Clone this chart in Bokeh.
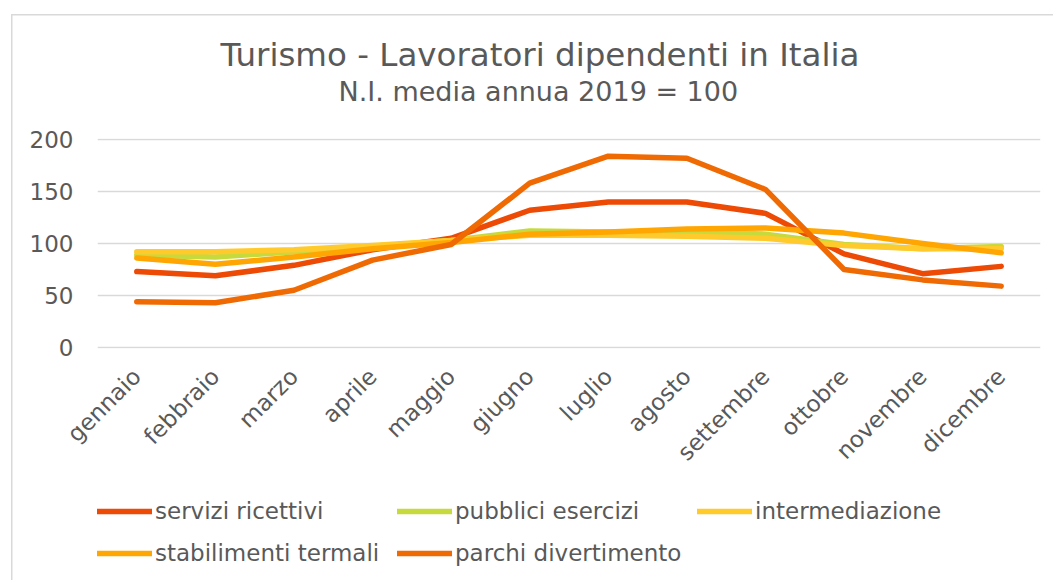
import math
from bokeh.plotting import figure
from bokeh.layouts import column
from bokeh.models import Range1d, FactorRange, Legend, LegendItem, Title, FixedTicker
from bokeh.embed import file_html
from bokeh.resources import INLINE

months = ["gennaio", "febbraio", "marzo", "aprile", "maggio", "giugno",
          "luglio", "agosto", "settembre", "ottobre", "novembre", "dicembre"]

servizi_ricettivi = [73, 69, 79, 94, 105, 132, 140, 140, 129, 90, 71, 78]
pubblici_esercizi = [89, 87, 92, 97, 103, 112, 111, 111, 109, 99, 95, 97]
intermediazione = [92, 92, 94, 98, 103, 108, 108, 107, 105, 98, 95, 95]
stabilimenti_termali = [86, 80, 87, 95, 101, 109, 111, 114, 115, 110, 100, 91]
parchi_divertimento = [44, 43, 55, 84, 99, 158, 184, 182, 152, 75, 65, 59]

series_names = ["servizi ricettivi", "pubblici esercizi", "intermediazione",
                "stabilimenti termali", "parchi divertimento"]
series_values = [servizi_ricettivi, pubblici_esercizi, intermediazione,
                 stabilimenti_termali, parchi_divertimento]
series_colors = ["#EC4A05", "#C6DA3E", "#FFCA2C", "#FFA602", "#F06A04"]

y_ticks = [0, 50, 100, 150, 200]

title_text = "Turismo - Lavoratori dipendenti in Italia"
subtitle_text = "N.I. media annua 2019 = 100"

FONT = "DejaVu Sans"
TXT = "#595959"
LW = 5.5

p = figure(width=1053, height=495,
           x_range=FactorRange(*months, range_padding=0),
           y_range=Range1d(-1, 201),
           output_backend="svg", toolbar_location=None,
           min_border_left=97, min_border_right=13,
           min_border_top=138, min_border_bottom=147)

p.outline_line_color = None
p.background_fill_color = "white"
p.border_fill_alpha = 0
p.xgrid.visible = False
p.ygrid.grid_line_color = "#d9d9d9"
p.ygrid.grid_line_width = 1.5

p.yaxis.ticker = FixedTicker(ticks=y_ticks)
for ax in (p.xaxis, p.yaxis):
    ax.axis_line_color = None
    ax.major_tick_line_color = None
    ax.minor_tick_line_color = None
    ax.major_tick_out = 0
    ax.major_label_text_font = FONT
    ax.major_label_text_color = TXT
    ax.major_label_text_font_size = "23px"
p.yaxis.major_label_standoff = 24
p.xaxis.major_label_orientation = math.pi / 4
p.xaxis.major_label_standoff = 24

for name, vals, col in zip(series_names, series_values, series_colors):
    p.line(x=months, y=vals, line_color=col, line_width=LW,
           line_cap="round", line_join="round")

# spacer between subtitle and plot area, then subtitle and title
p.add_layout(Title(text=" ", text_font_size="10px", standoff=19), "above")
p.add_layout(Title(text=subtitle_text, align="left", offset=241,
                   text_font=FONT, text_color=TXT, text_font_size="27px",
                   text_font_style="normal", standoff=0), "above")
p.add_layout(Title(text=title_text, align="left", offset=123,
                   text_font=FONT, text_color=TXT, text_font_size="32.5px",
                   text_font_style="normal", standoff=0), "above")

# legend panel below the chart (its lines lie outside its visible y range)
pl = figure(width=1053, height=85, x_range=p.x_range, y_range=Range1d(1000, 1001),
            x_axis_type=None, y_axis_type=None,
            output_backend="svg", toolbar_location=None,
            min_border_left=0, min_border_right=0,
            min_border_top=0, min_border_bottom=0)
pl.outline_line_color = None
pl.grid.visible = False
pl.background_fill_alpha = 0
pl.border_fill_alpha = 0

legend_renderers = []
for vals, col in zip(series_values, series_colors):
    legend_renderers.append(pl.line(x=months, y=vals, line_color=col, line_width=LW,
                                    line_cap="round"))

legend = Legend(items=[LegendItem(label=n, renderers=[r]) for n, r in zip(series_names, legend_renderers)],
                orientation="horizontal", ncols=3, location=(0, 12),
                glyph_width=55, glyph_height=30, label_height=30,
                label_width=230, label_standoff=3, spacing=12,
                padding=0, margin=0, border_line_color=None,
                background_fill_alpha=0,
                label_text_font=FONT, label_text_color=TXT,
                label_text_font_size="23px")
pl.add_layout(legend, "center")

layout = column(p, pl, spacing=0)
layout.styles = {
    "background-color": "white",
    "background-image": "linear-gradient(#d9d9d9, #d9d9d9), linear-gradient(#d9d9d9, #d9d9d9)",
    "background-size": "calc(100% - 11px) 1.5px, 1.5px calc(100% - 14px)",
    "background-position": "11px 14px, 11px 14px",
    "background-repeat": "no-repeat",
}
open("out.html", "w").write(file_html(layout, INLINE))
